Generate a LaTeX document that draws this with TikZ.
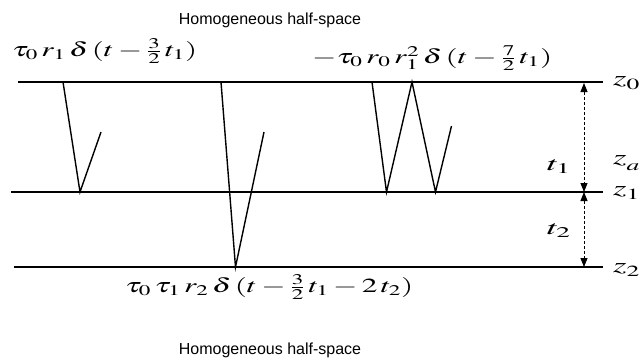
\documentclass[tikz,border=0pt]{standalone}
\usepackage{amsmath}
\usepackage{mathptmx}
\usepackage{graphicx}
\usepackage{fontspec}
\newfontfamily\lsans{Liberation Sans}
\usetikzlibrary{arrows.meta}
\newcommand\wfit[2]{\resizebox{#1}{\height}{#2}}
\begin{document}
\begin{tikzpicture}[x=1pt,y=-1pt,
  layer/.style={line width=1.7pt},
  ray/.style={line width=1.4pt, line join=miter},
  dim/.style={densely dashed, line width=0.8pt, {Triangle[length=9pt,width=7pt]}-{Triangle[length=9pt,width=7pt]}},
  lab/.style={font=\lsans\fontsize{16}{18}\selectfont},
  fm/.style={font=\fontsize{20}{22}\selectfont, inner sep=0pt},
  zl/.style={font=\fontsize{21}{24}\selectfont, inner sep=0pt, anchor=west}]
\useasboundingbox (0,0) rectangle (641,360);
% layers
\coordinate (l0a) at (18,82);  \coordinate (l0b) at (603,82);
\coordinate (l1a) at (11,192); \coordinate (l1b) at (603,192);
\coordinate (l2a) at (14,267); \coordinate (l2b) at (603,267);
\draw[layer] (l0a) -- (l0b);
\draw[layer] (l1a) -- (l1b);
\draw[layer] (l2a) -- (l2b);
% ray 1
\coordinate (a1) at (63,82); \coordinate (a2) at (80,192); \coordinate (a3) at (101,132);
\draw[ray] (a1) -- (a2) -- (a3);
% ray 2
\coordinate (b1) at (221,82); \coordinate (b2) at (235.5,267); \coordinate (b3) at (264,132);
\draw[ray] (b1) -- (b2) -- (b3);
% ray 3
\coordinate (c1) at (372,82); \coordinate (c2) at (386.5,192); \coordinate (c3) at (412,82);
\coordinate (c4) at (435.5,192); \coordinate (c5) at (451.5,126);
\draw[ray] (c1) -- (c2) -- (c3) -- (c4) -- (c5);
% dimension arrows
\coordinate (d0) at (584,83); \coordinate (d1) at (584,192); \coordinate (d2) at (584,267);
\draw[dim] (d0) -- (d1);
\draw[dim] (d1) -- (d2);
% labels
\node[lab] (top) at (270,20) {Homogeneous half-space};
\node[lab] (bot) at (270,350) {Homogeneous half-space};
\node[fm, anchor=west] (f1) at (12,51) {\wfit{185pt}{$\tau_0\,r_1\,\delta\,(t-\tfrac{3}{2}\,t_1)$}};
\node[fm, anchor=west] (f2) at (312,58) {\wfit{240pt}{$-\tau_0\,r_0\,r_1^2\,\delta\,(t-\tfrac{7}{2}\,t_1)$}};
\node[fm, anchor=west] (f3) at (125,287) {\wfit{288pt}{$\tau_0\,\tau_1\,r_2\,\delta\,(t-\tfrac{3}{2}\,t_1-2\,t_2)$}};
\node[zl] (z0) at (613,83) {\wfit{27pt}{$z_0$}};
\node[zl] (za) at (613,163) {\wfit{27pt}{$z_{\lower3pt\hbox{$\scriptstyle a$}}$}};
\node[zl] (z1) at (613,193) {\wfit{27pt}{$z_1$}};
\node[zl] (z2) at (613,270) {\wfit{27pt}{$z_2$}};
\node[fm] (t1) at (559,167) {\wfit{24pt}{$t_1$}};
\node[fm] (t2) at (559,231) {\wfit{24pt}{$t_2$}};
\end{tikzpicture}
\end{document}
